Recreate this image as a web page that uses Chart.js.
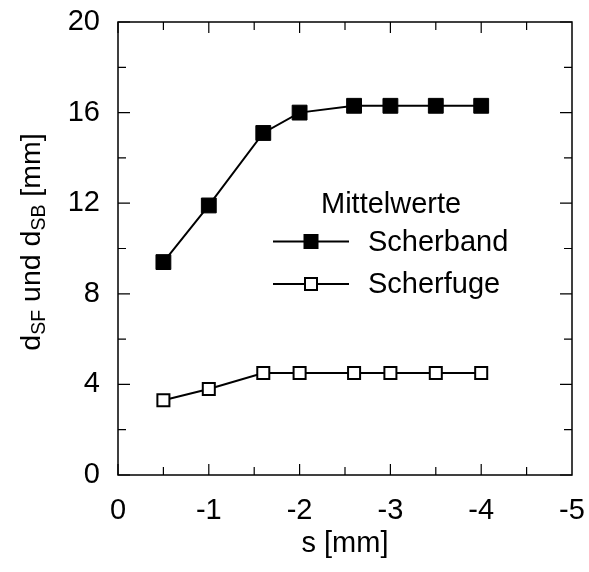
<!DOCTYPE html>
<html>
<head>
<meta charset="utf-8">
<script src="https://cdn.jsdelivr.net/npm/chart.js@4/dist/chart.umd.min.js"></script>
<style>
html,body{margin:0;padding:0;background:#fff;}
#wrap{width:589px;height:572px;}
</style>
</head>
<body>
<div id="wrap"><canvas id="c" width="589" height="572"></canvas></div>
<script>
// ---- data ----
const sValues = [-0.5, -1, -1.6, -2, -2.6, -3, -3.5, -4];
const scherband = [9.4, 11.9, 15.1, 16.0, 16.3, 16.3, 16.3, 16.3];
const scherfuge = [3.3, 3.8, 4.5, 4.5, 4.5, 4.5, 4.5, 4.5];
const xTicks = [0, -1, -2, -3, -4, -5];
const yTicks = [0, 4, 8, 12, 16, 20];
const legendTitle = 'Mittelwerte';
const seriesNames = ['Scherband', 'Scherfuge'];
const xTitle = 's [mm]';

const FONT = 'Liberation Sans, Arial, sans-serif';
const TICK_SIZE = 29;

function pts(xs, ys){ return xs.map((x,i)=>({x:x, y:ys[i]})); }

// inside tick marks + frame
const frameTicks = {
  id: 'frameTicks',
  afterDraw(chart){
    const {ctx, chartArea:a, scales:{x, y}} = chart;
    ctx.save();
    ctx.strokeStyle = '#000';
    ctx.lineWidth = 1.5;
    ctx.strokeRect(a.left, a.top, a.right - a.left, a.bottom - a.top);
    ctx.lineWidth = 1.2;
    ctx.beginPath();
    for (let v = 0; v >= -5 + 1e-9; v -= 0.5) {
      const px = x.getPixelForValue(v);
      const major = Math.abs(v - Math.round(v)) < 1e-6;
      const len = major ? 11 : 8;
      ctx.moveTo(px, a.bottom); ctx.lineTo(px, a.bottom - len);
      ctx.moveTo(px, a.top); ctx.lineTo(px, a.top + len);
    }
    for (let v = 0; v <= 20 + 1e-9; v += 2) {
      const py = y.getPixelForValue(v);
      const major = v % 4 === 0;
      const len = major ? 12 : 8;
      ctx.moveTo(a.left, py); ctx.lineTo(a.left + len, py);
      ctx.moveTo(a.right, py); ctx.lineTo(a.right - len, py);
    }
    ctx.stroke();
    ctx.restore();
  }
};

// y axis title with subscripts
const yTitlePlugin = {
  id: 'yTitle',
  afterDraw(chart){
    const ctx = chart.ctx;
    const parts = [
      ['d', false], ['SF', true], [' und d', false], ['SB', true], [' [mm]', false]
    ];
    const main = 28.5, sub = 19.5, subShift = 5;
    ctx.save();
    ctx.fillStyle = '#000';
    ctx.textBaseline = 'alphabetic';
    ctx.textAlign = 'left';
    let total = 0;
    parts.forEach(([t, s]) => { ctx.font = (s ? sub : main) + 'px ' + FONT; total += ctx.measureText(t).width; });
    const cy = 242;
    ctx.translate(39.5, cy + total / 2);
    ctx.rotate(-Math.PI / 2);
    let xpos = 0;
    parts.forEach(([t, s]) => {
      ctx.font = (s ? sub : main) + 'px ' + FONT;
      ctx.fillText(t, xpos, s ? subShift : 0);
      xpos += ctx.measureText(t).width;
    });
    ctx.restore();
  }
};

// legend drawn inside the plot
const legendPlugin = {
  id: 'inLegend',
  afterDraw(chart){
    const ctx = chart.ctx;
    ctx.save();
    ctx.fillStyle = '#000';
    ctx.font = '29px ' + FONT;
    ctx.textBaseline = 'middle';
    ctx.textAlign = 'left';
    ctx.fillText(legendTitle, 321, 205);
    const rows = [241.5, 284];
    chart.data.datasets.forEach((ds, i) => {
      const yy = rows[i];
      ctx.strokeStyle = '#000';
      ctx.lineWidth = 2;
      ctx.beginPath(); ctx.moveTo(273, yy); ctx.lineTo(349, yy); ctx.stroke();
      const side = i === 0 ? 15 : 12;
      if (i === 0) {
        ctx.fillStyle = '#000';
        ctx.fillRect(311 - side/2, yy - side/2, side, side);
      } else {
        ctx.fillStyle = '#fff';
        ctx.fillRect(311 - side/2, yy - side/2, side, side);
        ctx.strokeRect(311 - side/2, yy - side/2, side, side);
      }
      ctx.fillStyle = '#000';
      ctx.fillText(ds.label, 368, yy + 1);
    });
    ctx.restore();
  }
};

new Chart(document.getElementById('c'), {
  type: 'scatter',
  data: {
    datasets: [
      {
        label: seriesNames[0],
        data: pts(sValues, scherband),
        showLine: true,
        borderColor: '#000',
        borderWidth: 2,
        pointStyle: 'rect',
        pointRadius: 10.5,
        pointBackgroundColor: '#000',
        pointBorderColor: '#000',
        pointBorderWidth: 1
      },
      {
        label: seriesNames[1],
        data: pts(sValues, scherfuge),
        showLine: true,
        borderColor: '#000',
        borderWidth: 2,
        pointStyle: 'rect',
        pointRadius: 8.5,
        pointBackgroundColor: '#fff',
        pointBorderColor: '#000',
        pointBorderWidth: 2
      }
    ]
  },
  options: {
    responsive: false,
    animation: false,
    layout: { padding: { top: 22, right: 17, left: 0, bottom: 0 } },
    plugins: { legend: { display: false }, tooltip: { enabled: false } },
    scales: {
      x: {
        type: 'linear',
        reverse: true,
        min: -5, max: 0,
        afterBuildTicks: (s) => { s.ticks = xTicks.map(v => ({value: v})); },
        afterFit: (s) => { s.height = 97; s.paddingLeft = 0; s.paddingRight = 0; },
        grid: { display: false, drawTicks: false },
        border: { display: false },
        ticks: { color: '#000', padding: 19, maxRotation: 0, font: { family: FONT, size: TICK_SIZE },
                 callback: (v) => String(v) },
        title: { display: true, text: xTitle, color: '#000', font: { family: FONT, size: 29 }, padding: { top: 0, bottom: 11 } }
      },
      y: {
        type: 'linear',
        min: 0, max: 20,
        afterBuildTicks: (s) => { s.ticks = yTicks.map(v => ({value: v})); },
        afterFit: (s) => { s.width = 118; s.paddingTop = 0; s.paddingBottom = 0; },
        grid: { display: false, drawTicks: false },
        border: { display: false },
        ticks: { color: '#000', padding: 18, font: { family: FONT, size: TICK_SIZE },
                 callback: (v) => String(v) }
      }
    }
  },
  plugins: [frameTicks, yTitlePlugin, legendPlugin]
});
</script>
</body>
</html>
